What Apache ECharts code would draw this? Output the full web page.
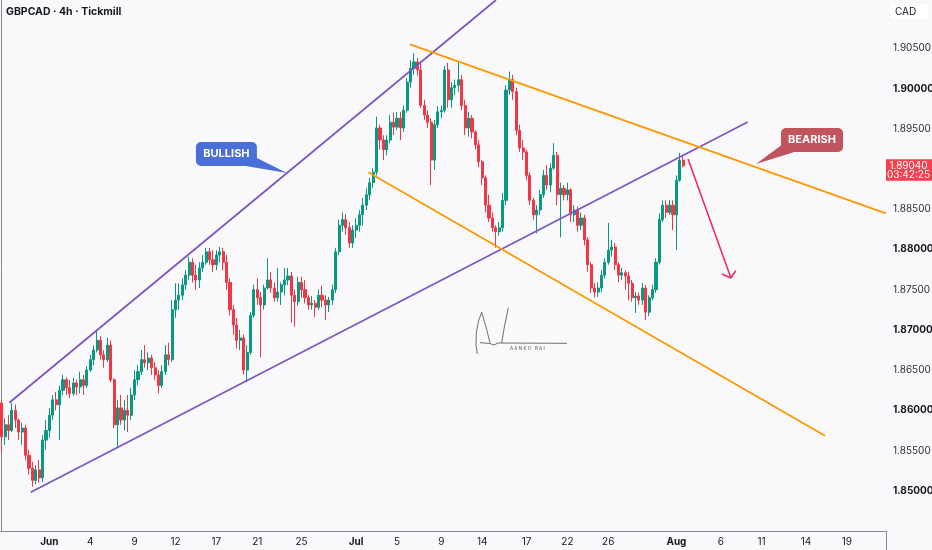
<!DOCTYPE html>
<html><head><meta charset="utf-8">
<script src="https://cdn.jsdelivr.net/npm/echarts@6/dist/echarts.min.js"></script>
<style>html,body{margin:0;padding:0;background:#f9f9fb;}#c{width:932px;height:550px;}</style>
</head><body><div id="c"></div>
<script>
// ---- data (GBPCAD 4h) ----
const firstOpen = 1.8609;
const closes = [
1.8567,1.8582,1.8575,1.8600,1.8588,1.8573,1.8578,1.8544,1.8528,1.8513,
1.8526,1.8516,1.8563,1.8575,1.8594,1.8613,1.8607,1.8625,1.8638,1.8628,
1.8621,1.8634,1.8629,1.8638,1.8631,1.8650,1.8663,1.8675,1.8687,1.8669,
1.8663,1.8681,1.8638,1.8582,1.8603,1.8588,1.8600,1.8594,1.8619,1.8638,
1.8648,1.8663,1.8659,1.8665,1.8653,1.8644,1.8631,1.8648,1.8669,1.8663,
1.8725,1.8737,1.8743,1.8756,1.8768,1.8784,1.8768,1.8762,1.8777,1.8784,
1.8797,1.8787,1.8781,1.8793,1.8797,1.8784,1.8759,1.8725,1.8706,1.8687,
1.8690,1.8650,1.8672,1.8718,1.8750,1.8740,1.8731,1.8752,1.8762,1.8752,
1.8740,1.8747,1.8756,1.8762,1.8767,1.8743,1.8735,1.8759,1.8750,1.8740,
1.8731,1.8733,1.8728,1.8743,1.8737,1.8731,1.8737,1.8750,1.8797,1.8830,
1.8837,1.8827,1.8808,1.8824,1.8830,1.8843,1.8855,1.8868,1.8883,1.8896,
1.8951,1.8936,1.8924,1.8936,1.8958,1.8952,1.8963,1.8951,1.8973,1.9008,
1.9025,1.9033,1.9023,1.8979,1.8967,1.8958,1.8911,1.8955,1.8971,1.8973,
1.9023,1.8986,1.9001,1.9004,1.9011,1.8979,1.8951,1.8963,1.8946,1.8930,
1.8909,1.8889,1.8855,1.8839,1.8827,1.8822,1.8827,1.8861,1.8998,1.9011,
1.8996,1.8948,1.8926,1.8921,1.8892,1.8861,1.8843,1.8849,1.8868,1.8892,
1.8880,1.8901,1.8917,1.8868,1.8876,1.8868,1.8874,1.8843,1.8849,1.8830,
1.8839,1.8812,1.8781,1.8752,1.8747,1.8752,1.8768,1.8784,1.8799,1.8803,
1.8781,1.8768,1.8771,1.8767,1.8758,1.8740,1.8742,1.8737,1.8752,1.8722,
1.8740,1.8750,1.8784,1.8837,1.8855,1.8846,1.8855,1.8843,1.8886,1.8911,
1.8904];
const highs = [
1.8613,1.8590,1.8594,1.8609,1.8607,1.8590,1.8585,1.8582,1.8551,1.8536,
1.8532,1.8538,1.8569,1.8588,1.8603,1.8619,1.8623,1.8631,1.8644,1.8641,
1.8638,1.8640,1.8638,1.8648,1.8644,1.8655,1.8669,1.8681,1.8700,1.8692,
1.8675,1.8690,1.8687,1.8640,1.8613,1.8619,1.8613,1.8619,1.8628,1.8650,
1.8656,1.8675,1.8681,1.8672,1.8669,1.8660,1.8650,1.8656,1.8681,1.8684,
1.8737,1.8758,1.8758,1.8764,1.8774,1.8791,1.8789,1.8781,1.8784,1.8793,
1.8802,1.8802,1.8799,1.8799,1.8803,1.8802,1.8793,1.8764,1.8731,1.8715,
1.8700,1.8694,1.8681,1.8722,1.8756,1.8764,1.8747,1.8756,1.8789,1.8772,
1.8759,1.8777,1.8759,1.8777,1.8777,1.8772,1.8750,1.8766,1.8766,1.8762,
1.8743,1.8742,1.8737,1.8750,1.8755,1.8743,1.8741,1.8756,1.8802,1.8837,
1.8846,1.8844,1.8834,1.8830,1.8839,1.8849,1.8864,1.8876,1.8889,1.8901,
1.8965,1.8955,1.8942,1.8942,1.8967,1.8970,1.8971,1.8971,1.8979,1.9013,
1.9035,1.9044,1.9038,1.9033,1.8986,1.8973,1.8963,1.8961,1.8978,1.8979,
1.9028,1.9032,1.9008,1.9011,1.9033,1.9017,1.8986,1.8971,1.8967,1.8948,
1.8936,1.8911,1.8892,1.8868,1.8846,1.8830,1.8834,1.8870,1.9004,1.9021,
1.9017,1.9001,1.8955,1.8936,1.8924,1.8896,1.8864,1.8855,1.8874,1.8899,
1.8905,1.8907,1.8932,1.8921,1.8883,1.8880,1.8883,1.8876,1.8855,1.8853,
1.8846,1.8843,1.8815,1.8784,1.8758,1.8759,1.8774,1.8789,1.8833,1.8812,
1.8808,1.8784,1.8777,1.8774,1.8772,1.8762,1.8747,1.8746,1.8758,1.8756,
1.8743,1.8756,1.8789,1.8845,1.8861,1.8861,1.8861,1.8861,1.8892,1.8920,
1.8917];
const lows = [
1.8547,1.8557,1.8563,1.8573,1.8578,1.8563,1.8557,1.8538,1.8520,1.8505,
1.8508,1.8510,1.8511,1.8551,1.8566,1.8588,1.8600,1.8563,1.8619,1.8619,
1.8615,1.8618,1.8619,1.8621,1.8619,1.8628,1.8648,1.8656,1.8672,1.8663,
1.8653,1.8660,1.8635,1.8578,1.8553,1.8582,1.8575,1.8573,1.8588,1.8613,
1.8631,1.8644,1.8653,1.8650,1.8644,1.8638,1.8621,1.8628,1.8644,1.8656,
1.8660,1.8715,1.8725,1.8737,1.8750,1.8762,1.8759,1.8750,1.8752,1.8772,
1.8781,1.8781,1.8772,1.8774,1.8784,1.8774,1.8750,1.8718,1.8694,1.8677,
1.8675,1.8644,1.8635,1.8669,1.8715,1.8731,1.8666,1.8725,1.8750,1.8746,
1.8735,1.8735,1.8731,1.8743,1.8756,1.8709,1.8704,1.8730,1.8740,1.8733,
1.8725,1.8725,1.8716,1.8725,1.8728,1.8712,1.8722,1.8731,1.8746,1.8793,
1.8822,1.8818,1.8802,1.8802,1.8814,1.8822,1.8830,1.8849,1.8861,1.8876,
1.8892,1.8924,1.8911,1.8917,1.8932,1.8942,1.8948,1.8936,1.8946,1.8970,
1.9001,1.9017,1.9016,1.8976,1.8961,1.8951,1.8880,1.8899,1.8951,1.8963,
1.8970,1.8976,1.8976,1.8992,1.8996,1.8973,1.8942,1.8940,1.8938,1.8924,
1.8902,1.8880,1.8846,1.8834,1.8822,1.8802,1.8817,1.8822,1.8855,1.8992,
1.8986,1.8942,1.8921,1.8911,1.8886,1.8855,1.8837,1.8820,1.8843,1.8864,
1.8874,1.8871,1.8899,1.8855,1.8815,1.8861,1.8861,1.8834,1.8834,1.8822,
1.8824,1.8805,1.8772,1.8746,1.8740,1.8741,1.8747,1.8764,1.8781,1.8791,
1.8774,1.8759,1.8762,1.8750,1.8737,1.8735,1.8721,1.8731,1.8731,1.8712,
1.8717,1.8737,1.8746,1.8781,1.8834,1.8839,1.8843,1.8824,1.8799,1.8884,
1.8902];
const slotCount = 260; // bar slots incl. future space
const tickIndex = [14,26,39,51,63,75,88,104,116,129,141,154,166,178,198,211,223,236,248];
const tickText  = ['Jun','4','9','12','17','21','25','Jul','5','9','14','17','22','26','Aug','6','11','14','19'];
const monthTicks = ['Jun','Jul','Aug'];
// trend lines: [barIndex, price] endpoints
const lineUpperRising = [[2.23,1.86094],[145.05,1.91100]];
const lineLowerRising = [[8.51,1.84981],[218.92,1.89584]];
const lineUpperFalling = [[119.82,1.90549],[259.5,1.88449]];
const lineLowerFalling = [[107.58,1.88958],[241.6,1.85684]];
const arrowShaft = [[201.4,1.89124],[214.0,1.87644]];
const arrowHead = [[211.3,1.87694],[214.0,1.87644],[215.4,1.87735]];
const bullishAnchor = [83.7,1.8895];
const bearishAnchor = [221.35,1.89061];
const lastPrice = 1.89040;
const countdown = '03:42:25';

// ---- build ----
const cats = Array.from({length: slotCount}, (_, i) => 'b' + i);
const tickMap = {};
tickIndex.forEach((k, j) => { tickMap[k] = tickText[j]; });
const candles = closes.map((c, i) => {
  const o = i === 0 ? firstOpen : closes[i - 1];
  return [o, c, Math.min(lows[i], o, c), Math.max(highs[i], o, c)];
});
const UP = '#089981', DOWN = '#f23645', PURPLE = '#7e57c2', ORANGE = '#ff9800', PINK = '#ee2a6e';
const FONT = 'Inter, Roboto, sans-serif';

function lineSeries(data, color, width) {
  return {type: 'line', xAxisIndex: 1, yAxisIndex: 0, data: data, symbol: 'none', showSymbol: false,
    lineStyle: {color: color, width: width}, silent: true, z: 4, animation: false};
}

const chart = echarts.init(document.getElementById('c'));
chart.setOption({
  backgroundColor: '#f9f9fb',
  animation: false,
  grid: {left: 0, right: 46, top: 0, bottom: 19, containLabel: false, outerBoundsMode: 'none'},
  xAxis: [
    {type: 'category', data: cats, boundaryGap: true,
      axisLine: {show: true, lineStyle: {color: '#8a8a8f', width: 1}},
      axisTick: {show: false}, splitLine: {show: false},
      axisLabel: {
        interval: (i) => tickMap[i] !== undefined,
        margin: 6, fontSize: 10, color: '#131722', fontFamily: FONT,
        formatter: (v, i) => {
          const t = tickMap[i];
          if (t === undefined) return '';
          return monthTicks.indexOf(t) >= 0 ? '{m|' + t + '}' : t;
        },
        rich: {m: {fontWeight: 'bold', fontSize: 10, color: '#131722', fontFamily: FONT}}
      }},
    {type: 'value', min: -0.5, max: slotCount - 0.5, show: false}
  ],
  yAxis: {
    type: 'value', position: 'right', min: 1.845, max: 1.911, interval: 0.005,
    splitLine: {show: false}, axisTick: {show: false},
    axisLine: {show: true, lineStyle: {color: '#8a8a8f', width: 1}},
    axisLabel: {
      margin: 7, fontSize: 10, color: '#131722', fontFamily: FONT,
      formatter: (v) => {
        if (v < 1.8499 || v > 1.9051) return '';
        const s = v.toFixed(5);
        return (Math.round(v * 1000) % 10 === 0) ? '{b|' + s + '}' : '{n|' + s + '}';
      },
      rich: {
        b: {fontWeight: 'bold', fontSize: 10, color: '#131722', fontFamily: FONT},
        n: {fontSize: 10, color: '#2a2e39', fontFamily: FONT}
      }
    }
  },
  series: [
    {type: 'candlestick', xAxisIndex: 0, yAxisIndex: 0, data: candles, barWidth: 2.6, silent: true,
      itemStyle: {color: UP, color0: DOWN, borderColor: UP, borderColor0: DOWN, borderWidth: 1}},
    lineSeries(lineUpperRising, PURPLE, 1.8),
    lineSeries(lineLowerRising, PURPLE, 1.8),
    lineSeries(lineUpperFalling, ORANGE, 1.8),
    lineSeries(lineLowerFalling, ORANGE, 1.8),
    lineSeries(arrowShaft, PINK, 1.6),
    lineSeries(arrowHead, PINK, 1.6)
  ]
});

function px(pt) { return chart.convertToPixel({seriesIndex: 1}, pt); }
function txt(text, x, y, font, fill, align) {
  return {type: 'text', z: 20, silent: true,
    style: {text: text, x: x, y: y, font: font, fill: fill, align: align || 'left', verticalAlign: 'middle',
      textAlign: align || 'left', textVerticalAlign: 'middle'}};
}
const A = px(bullishAnchor), B = px(bearishAnchor);
const yLast = px([0, lastPrice])[1];
const BLUE = '#4b6fd8', RED = '#c2545e';
const g = [];
// title & currency
g.push(txt('GBPCAD · 4h · Tickmill', 6, 11.5, 'bold 10.5px ' + FONT, '#131722'));
g.push({type: 'rect', z: 19, silent: true, shape: {x: 889, y: 3, width: 40, height: 17, r: 3},
  style: {fill: '#ffffff', stroke: '#ececf0', lineWidth: 0.5}});
g.push(txt('CAD', 895, 11.5, '10px ' + FONT, '#131722'));
// BULLISH callout
g.push({type: 'polygon', z: 18, silent: true, shape: {points: [[A[0] - 36, A[1] - 18], [A[0] - 44, A[1] - 7.5], [A[0], A[1]]]}, style: {fill: BLUE}});
g.push({type: 'rect', z: 19, silent: true, shape: {x: A[0] - 91, y: A[1] - 31, width: 61, height: 24, r: 5}, style: {fill: BLUE}});
g.push(txt('BULLISH', A[0] - 60.5, A[1] - 19, 'bold 11px ' + FONT, '#ffffff', 'center'));
// BEARISH callout
g.push({type: 'polygon', z: 18, silent: true, shape: {points: [[B[0] + 27, B[1] - 20], [B[0] + 40, B[1] - 12.5], [B[0], B[1]]]}, style: {fill: RED}});
g.push({type: 'rect', z: 19, silent: true, shape: {x: B[0] + 25, y: B[1] - 36, width: 62, height: 24, r: 5}, style: {fill: RED}});
g.push(txt('BEARISH', B[0] + 56, B[1] - 24, 'bold 11px ' + FONT, '#ffffff', 'center'));
// last price tag
g.push({type: 'rect', z: 19, silent: true, shape: {x: 886, y: yLast - 6.5, width: 46, height: 21.5}, style: {fill: '#f5414f'}});
g.push(txt(lastPrice.toFixed(5), 908.5, yLast, '10px ' + FONT, '#ffffff', 'center'));
g.push(txt(countdown, 908.5, yLast + 9.5, '10px ' + FONT, '#ffffff', 'center'));
// axis line continuation below plot
g.push({type: 'line', z: 5, silent: true, shape: {x1: 886.5, y1: 531, x2: 886.5, y2: 550}, style: {stroke: '#8a8a8f', lineWidth: 1}});
// signature
const sigStyle = {stroke: '#4a4a4a', lineWidth: 0.8, fill: null};
g.push({type: 'polyline', z: 6, silent: true, shape: {points: [[481.7,312.3],[478.5,321],[476.3,333],[476,345],[477.3,354]]}, style: sigStyle});
g.push({type: 'polyline', z: 6, silent: true, shape: {points: [[481.7,312.3],[486,327],[490,342.7]]}, style: sigStyle});
g.push({type: 'polyline', z: 6, silent: true, shape: {points: [[501.7,342.7],[504.5,326],[508.3,307.7]]}, style: sigStyle});
g.push({type: 'polyline', z: 6, silent: true, shape: {points: [[480,342.7],[490,343.5],[494,345],[498,343],[567,343.3]]}, style: sigStyle});
g.push(txt('A A N K O   R A I', 510, 349, '4.5px ' + FONT, '#555555'));
chart.setOption({graphic: {elements: g}});
</script>
</body></html>
